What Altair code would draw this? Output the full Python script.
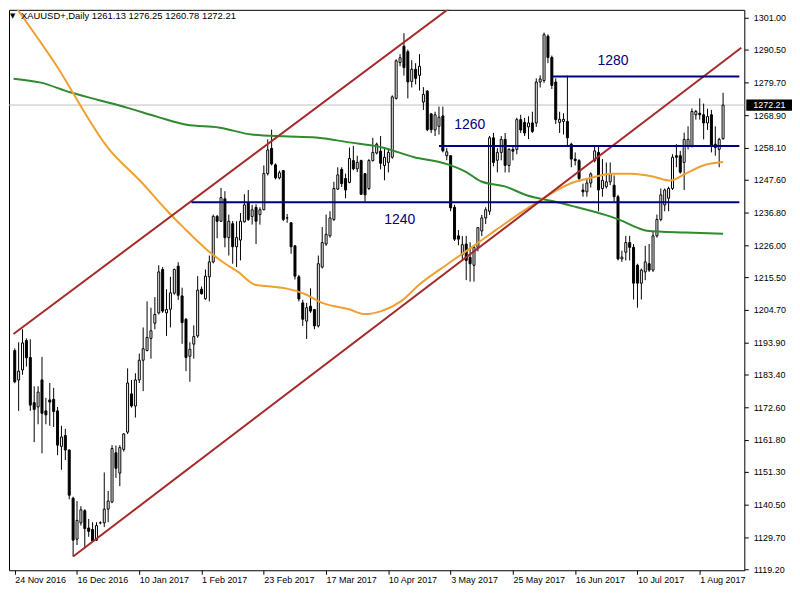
import json
import altair as alt
import pandas as pd

TITLE = "XAUUSD+,Daily  1261.13 1276.25 1260.78 1272.21"
LAST = 1272.21

date_ticks = [0, 16, 32, 48, 64, 80, 96, 112, 128, 144, 160, 176]
date_labels = ["24 Nov 2016", "16 Dec 2016", "10 Jan 2017", "1 Feb 2017", "23 Feb 2017",
               "17 Mar 2017", "10 Apr 2017", "3 May 2017", "25 May 2017", "16 Jun 2017",
               "10 Jul 2017", "1 Aug 2017"]
price_ticks = [1301.0, 1290.5, 1279.7, 1268.9, 1258.1, 1247.6, 1236.8, 1226.0, 1215.5,
               1204.7, 1193.9, 1183.4, 1172.6, 1161.8, 1151.3, 1140.5, 1129.7, 1119.2]

# daily candles, bar index 0 = 24 Nov 2016
opens = [1191.3, 1181.6, 1184.9, 1194.6, 1189.0, 1174.1, 1172.7, 1181.6, 1171.4, 1175.0,
         1175.2, 1171.4, 1159.7, 1163.3, 1158.5, 1142.6, 1129.1, 1134.5, 1138.5, 1132.8,
         1132.3, 1128.8, 1134.5, 1134.5, 1139.0, 1141.4, 1157.6, 1150.9, 1158.7, 1164.4,
         1177.0, 1173.0, 1181.6, 1188.1, 1191.3, 1195.3, 1200.3, 1203.7, 1218.0, 1203.7,
         1204.9, 1210.2, 1219.1, 1209.3, 1201.6, 1189.4, 1193.4, 1196.1, 1211.5, 1208.4,
         1215.6, 1220.5, 1235.5, 1233.9, 1241.3, 1228.5, 1233.1, 1225.5, 1227.7, 1233.7,
         1239.9, 1235.5, 1238.5, 1236.1, 1237.7, 1249.6, 1257.9, 1252.5, 1248.2, 1250.6,
         1235.0, 1233.4, 1225.8, 1215.6, 1207.0, 1201.0, 1205.9, 1204.8, 1199.4, 1218.8,
         1226.4, 1229.1, 1234.5, 1244.5, 1251.0, 1248.0, 1246.7, 1253.9, 1251.2, 1253.9,
         1249.6, 1244.7, 1253.9, 1256.4, 1257.0, 1252.3, 1253.3, 1255.0, 1274.4, 1286.2,
         1291.6, 1289.8, 1280.0, 1284.0, 1282.0, 1273.2, 1276.8, 1269.3, 1264.0, 1265.2,
         1268.6, 1255.5, 1255.5, 1238.5, 1229.1, 1222.9, 1226.4, 1222.0, 1219.4, 1225.3,
         1230.7, 1235.0, 1237.2, 1261.4, 1254.0, 1256.6, 1260.9, 1252.3, 1257.6, 1257.6,
         1267.4, 1266.5, 1265.0, 1266.3, 1266.3, 1279.8, 1280.3, 1294.9, 1287.9, 1279.8,
         1266.5, 1266.8, 1266.8, 1259.3, 1254.4, 1253.9, 1244.2, 1243.6, 1246.5, 1253.9,
         1256.6, 1244.7, 1245.3, 1246.9, 1245.8, 1242.0, 1221.5, 1223.7, 1226.9, 1225.3,
         1219.4, 1213.5, 1217.2, 1219.9, 1217.8, 1229.1, 1234.5, 1239.3, 1241.5, 1244.7,
         1255.5, 1255.5, 1253.3, 1258.7, 1258.7, 1269.0, 1269.5, 1269.0, 1266.3, 1269.0,
         1259.3, 1257.6, 1261.13]
highs = [1192.0, 1194.0, 1198.3, 1195.3, 1195.0, 1179.5, 1179.5, 1189.2, 1175.7, 1180.6,
         1179.0, 1172.7, 1166.5, 1165.5, 1158.7, 1143.1, 1141.7, 1140.0, 1139.0, 1135.8,
         1134.7, 1134.7, 1135.0, 1151.1, 1145.0, 1160.1, 1160.0, 1160.1, 1164.0, 1185.4,
         1181.6, 1183.8, 1190.3, 1198.9, 1207.5, 1205.4, 1208.9, 1219.4, 1218.8, 1211.5,
         1215.6, 1218.3, 1220.4, 1212.0, 1202.0, 1194.0, 1199.6, 1215.8, 1212.4, 1218.0,
         1222.6, 1236.1, 1236.0, 1244.9, 1243.8, 1236.1, 1234.0, 1233.9, 1236.6, 1242.8,
         1244.2, 1239.3, 1239.5, 1238.5, 1252.3, 1260.9, 1264.1, 1253.0, 1250.6, 1250.8,
         1236.3, 1233.6, 1226.0, 1216.2, 1208.0, 1207.0, 1211.8, 1205.0, 1222.6, 1232.0,
         1236.1, 1237.2, 1246.9, 1251.7, 1251.7, 1249.6, 1258.2, 1258.7, 1255.5, 1254.2,
         1249.6, 1254.4, 1261.4, 1259.8, 1262.0, 1257.7, 1258.0, 1275.4, 1287.3, 1289.0,
         1295.9, 1290.5, 1287.0, 1286.0, 1289.0, 1278.1, 1277.1, 1269.5, 1270.0, 1271.7,
         1271.7, 1258.0, 1255.7, 1239.3, 1231.0, 1229.0, 1229.1, 1227.0, 1226.0, 1232.0,
         1236.0, 1238.5, 1262.0, 1263.0, 1258.0, 1262.0, 1263.0, 1258.0, 1259.0, 1268.0,
         1269.0, 1268.0, 1268.5, 1270.0, 1281.0, 1282.0, 1296.1, 1295.5, 1288.5, 1281.0,
         1270.0, 1269.5, 1281.9, 1259.8, 1256.6, 1254.4, 1246.3, 1248.0, 1250.0, 1258.7,
         1258.7, 1254.4, 1253.3, 1253.3, 1249.0, 1242.6, 1224.2, 1229.1, 1229.1, 1226.4,
         1219.9, 1218.3, 1225.8, 1226.4, 1230.7, 1236.1, 1244.7, 1244.7, 1245.3, 1256.0,
         1259.3, 1257.1, 1263.1, 1265.2, 1271.1, 1270.6, 1274.4, 1272.7, 1271.0, 1270.6,
         1265.2, 1261.4, 1276.25]
lows = [1180.5, 1171.4, 1183.3, 1186.0, 1171.4, 1161.1, 1167.0, 1157.4, 1167.0, 1166.5,
        1166.1, 1156.8, 1152.0, 1155.2, 1142.3, 1123.4, 1127.2, 1133.6, 1126.1, 1129.9,
        1128.3, 1128.5, 1134.0, 1133.1, 1134.7, 1141.0, 1149.3, 1146.6, 1158.0, 1163.8,
        1172.5, 1169.2, 1180.6, 1177.9, 1191.0, 1188.6, 1198.3, 1203.2, 1203.7, 1196.1,
        1198.9, 1209.7, 1208.0, 1193.5, 1184.5, 1181.0, 1188.6, 1195.5, 1209.7, 1208.0,
        1207.5, 1220.0, 1228.3, 1233.7, 1225.3, 1222.6, 1219.9, 1218.8, 1221.0, 1233.5,
        1234.0, 1232.8, 1226.4, 1232.8, 1237.5, 1249.0, 1252.3, 1247.7, 1247.7, 1234.0,
        1233.4, 1223.2, 1214.7, 1207.5, 1199.4, 1195.1, 1203.7, 1198.3, 1198.9, 1218.3,
        1225.8, 1228.5, 1234.0, 1244.2, 1245.2, 1241.5, 1246.4, 1250.7, 1250.1, 1242.6,
        1240.4, 1244.2, 1253.6, 1255.9, 1251.0, 1247.4, 1250.0, 1254.5, 1274.0, 1285.0,
        1281.9, 1274.4, 1278.0, 1279.0, 1277.0, 1270.6, 1263.6, 1263.0, 1262.0, 1262.5,
        1256.6, 1254.0, 1237.2, 1227.4, 1226.0, 1221.0, 1214.5, 1214.0, 1214.0, 1224.0,
        1229.0, 1233.0, 1236.0, 1252.0, 1250.0, 1254.0, 1250.0, 1250.0, 1254.0, 1256.0,
        1263.0, 1262.0, 1261.0, 1263.0, 1265.0, 1278.0, 1279.5, 1286.0, 1277.5, 1266.0,
        1263.0, 1262.5, 1258.7, 1251.7, 1252.3, 1246.9, 1242.0, 1242.0, 1245.0, 1253.3,
        1237.2, 1242.0, 1244.7, 1245.8, 1240.4, 1221.0, 1220.5, 1221.0, 1221.0, 1208.1,
        1205.4, 1208.1, 1214.5, 1217.2, 1217.2, 1228.5, 1233.9, 1237.2, 1237.2, 1244.2,
        1251.7, 1249.6, 1244.2, 1257.6, 1258.2, 1267.4, 1267.4, 1260.9, 1264.0, 1256.6,
        1255.5, 1251.7, 1260.78]
closes = [1181.0, 1184.5, 1193.8, 1188.9, 1173.3, 1171.9, 1177.6, 1170.6, 1170.1, 1174.3,
          1171.2, 1160.1, 1162.8, 1158.5, 1143.6, 1128.8, 1135.3, 1138.8, 1132.6, 1131.7,
          1128.5, 1133.6, 1134.5, 1139.0, 1141.7, 1159.0, 1152.5, 1159.3, 1163.8, 1180.6,
          1173.0, 1181.6, 1188.1, 1191.9, 1195.6, 1197.8, 1203.2, 1217.2, 1204.3, 1204.8,
          1210.3, 1218.0, 1209.5, 1200.5, 1189.0, 1191.7, 1195.9, 1211.2, 1210.0, 1215.8,
          1220.5, 1235.5, 1233.9, 1241.7, 1228.5, 1233.9, 1225.5, 1228.5, 1233.9, 1239.3,
          1234.5, 1237.7, 1233.9, 1237.7, 1249.6, 1257.4, 1252.8, 1248.2, 1249.9, 1234.5,
          1235.0, 1225.5, 1215.8, 1208.3, 1201.6, 1205.4, 1204.3, 1199.4, 1219.9, 1226.9,
          1229.6, 1235.0, 1244.7, 1249.2, 1246.3, 1244.2, 1254.6, 1251.2, 1253.3, 1242.8,
          1242.6, 1253.9, 1256.6, 1259.3, 1253.0, 1255.0, 1256.6, 1274.9, 1286.8, 1287.8,
          1284.6, 1279.8, 1284.0, 1281.0, 1285.0, 1275.7, 1264.1, 1264.1, 1269.0, 1268.2,
          1257.1, 1256.8, 1238.3, 1228.0, 1228.0, 1226.2, 1221.0, 1219.9, 1225.3, 1231.8,
          1235.0, 1237.7, 1261.4, 1253.3, 1256.6, 1260.9, 1252.3, 1257.6, 1257.0, 1267.4,
          1264.0, 1263.0, 1266.3, 1263.5, 1279.8, 1280.8, 1295.4, 1287.9, 1278.7, 1267.4,
          1267.5, 1267.5, 1261.4, 1254.4, 1253.9, 1248.0, 1243.6, 1246.5, 1249.5, 1257.1,
          1244.2, 1247.4, 1246.9, 1249.6, 1242.0, 1221.5, 1222.1, 1226.9, 1225.3, 1213.5,
          1213.5, 1217.8, 1220.5, 1217.8, 1229.1, 1234.5, 1242.6, 1244.2, 1244.7, 1255.0,
          1255.0, 1250.1, 1260.9, 1260.9, 1270.1, 1270.1, 1269.0, 1266.3, 1268.4, 1258.7,
          1258.2, 1260.9, 1272.21]

# moving averages (bar index, price)
ma_fast_idx = [-0.3, 9.9, 24.2, 32.4, 39.2, 43.4, 49.2, 54.2, 57.4, 61.7, 65.9, 69.9, 74.2,
               79.2, 85.9, 89.9, 94.2, 99.2, 104.2, 110.9, 117.4, 123.4, 129.2, 135.9, 139.2,
               144.2, 147.4, 153.4, 158.4, 164.2, 168.4, 172.4, 176.7, 182.0]
ma_fast_val = [1305.5, 1286.8, 1257.7, 1247.0, 1237.3, 1231.8, 1224.7, 1219.8, 1217.2, 1213.0,
               1212.4, 1211.7, 1210.1, 1206.9, 1204.9, 1203.3, 1204.3, 1207.5, 1213.3, 1219.5,
               1225.3, 1230.8, 1236.0, 1241.5, 1244.1, 1247.0, 1248.0, 1249.6, 1249.6, 1248.6,
               1247.3, 1249.6, 1252.2, 1253.4]
ma_slow_idx = [-0.3, 6.7, 14.2, 21.7, 29.2, 36.7, 44.2, 52.4, 60.9, 69.2, 77.4, 85.9, 94.2,
               102.4, 110.9, 115.9, 119.9, 125.9, 131.7, 138.4, 144.2, 151.7, 155.9, 159.9,
               162.4, 172.4, 182.0]
ma_slow_val = [1280.9, 1279.6, 1276.4, 1273.8, 1271.2, 1268.3, 1265.7, 1264.8, 1262.5, 1261.9,
               1261.5, 1259.9, 1258.3, 1255.1, 1252.8, 1250.2, 1247.0, 1245.4, 1242.4, 1240.5,
               1238.6, 1236.0, 1234.1, 1231.8, 1230.8, 1230.2, 1229.8]

# channel lines (two anchor points each) and horizontal levels
chan_name = ["upper", "upper", "lower", "lower"]
chan_idx = [-0.325, 113.5, 15.0, 186.675]
chan_val = [1196.75, 1305.85, 1123.4, 1291.07]

level_val = [1240.2, 1258.7, 1281.6]
level_start = [45.4, 109.0, 137.9]
level_text = ["1240", "1260", "1280"]
level_text_idx = [98.9, 116.9, 153.7]
level_text_val = [1234.4, 1265.7, 1286.7]

X_START = -0.2
X_END = 186.175
xs = alt.Scale(domain=[X_START, X_END], nice=False, zero=False)
ys = alt.Scale(domain=[1118.87, 1303.59], nice=False, zero=False)

FONT = "Liberation Sans"
label_expr = json.dumps(date_labels) + "[round(datum.value / 16)]"

AX_X = alt.Axis(values=date_ticks, labelExpr=label_expr, labelAlign="left", labelBaseline="top",
                labelFont=FONT, labelFontSize=9, labelColor="black", tickColor="black",
                tickSize=4, labelPadding=1, domain=False, grid=False, labelFlush=False,
                labelOverlap=False, labelBound=False, title=None)
AX_Y = alt.Axis(orient="right", values=price_ticks, format=".2f", labelFont=FONT,
                labelFontSize=9, labelColor="black", tickColor="black", tickSize=4,
                labelPadding=5, domain=False, grid=False, labelOverlap=False,
                labelFlush=False, labelBound=False, title=None)


def X(field):
    return alt.X(field, type="quantitative", scale=xs, axis=AX_X, title=None)


def Y(field):
    return alt.Y(field, type="quantitative", scale=ys, axis=AX_Y, title=None)


df = pd.DataFrame({"i": list(range(len(opens))), "o": opens, "h": highs, "l": lows, "c": closes})
bull = df[df.c >= df.o]
bear = df[df.c < df.o]

wicks = alt.Chart(df).mark_rule(color="black", strokeWidth=1).encode(
    x=X("i"), y=Y("l"), y2="h:Q")

bodies_bull = alt.Chart(bull).mark_bar(size=2, fill="white", stroke="black", strokeWidth=1).encode(
    x=X("i"), y=Y("o"), y2="c:Q")
bodies_bear = alt.Chart(bear).mark_bar(size=2, fill="black", stroke="black", strokeWidth=1).encode(
    x=X("i"), y=Y("o"), y2="c:Q")

last_line = alt.Chart(pd.DataFrame({"p": [LAST]})).mark_rule(color="#c0c0c0", strokeWidth=1).encode(
    y=Y("p"))

ma_fast = alt.Chart(pd.DataFrame({"i": ma_fast_idx, "v": ma_fast_val})).mark_line(
    color="#f0a030", strokeWidth=2, clip=True, interpolate="monotone").encode(x=X("i"), y=Y("v"))
ma_slow = alt.Chart(pd.DataFrame({"i": ma_slow_idx, "v": ma_slow_val})).mark_line(
    color="#2e8b2e", strokeWidth=2, clip=True, interpolate="monotone").encode(x=X("i"), y=Y("v"))

channel = alt.Chart(pd.DataFrame({"n": chan_name, "i": chan_idx, "v": chan_val})).mark_line(
    color="#a52a2a", strokeWidth=2, clip=True).encode(x=X("i"), y=Y("v"), detail="n:N")

levels = alt.Chart(pd.DataFrame({"s": level_start, "e": [X_END] * 3, "v": level_val})).mark_rule(
    color="#000080", strokeWidth=2, clip=True).encode(x=X("s"), x2="e:Q", y=Y("v"))

level_labels = alt.Chart(pd.DataFrame({"t": level_text, "i": level_text_idx, "v": level_text_val})).mark_text(
    color="#000080", font=FONT, fontSize=14, align="center", baseline="middle").encode(
    x=X("i"), y=Y("v"), text="t:N")

price_box = alt.Chart(pd.DataFrame({"p": [LAST]})).transform_calculate(
    top="datum.p + 1.85", bot="datum.p - 1.85").mark_rect(color="black").encode(
    x=alt.value(742), x2=alt.value(788), y=Y("top"), y2="bot:Q")
price_text = alt.Chart(pd.DataFrame({"p": [LAST], "t": ["1272.21"]})).mark_text(
    color="white", font=FONT, fontSize=9, align="left", baseline="middle").encode(
    x=alt.value(749), y=Y("p"), text="t:N")

title_text = alt.Chart(pd.DataFrame({"t": [TITLE]})).mark_text(
    font=FONT, fontSize=9.5, align="left", baseline="middle", color="black").encode(
    x=alt.value(12), y=alt.value(6), text="t:N")
title_icon = alt.Chart(pd.DataFrame({"t": ["\u25BC"]})).mark_text(
    font="DejaVu Sans", fontSize=7, align="left", baseline="middle", color="black").encode(
    x=alt.value(1), y=alt.value(6), text="t:N")

chart = alt.layer(
    last_line, wicks, bodies_bull, bodies_bear, ma_slow, ma_fast, channel, levels,
    level_labels, price_box, price_text, title_icon, title_text
).properties(
    width=740, height=564,
    padding={"left": 0, "top": 0, "right": 0, "bottom": 0},
    background="white",
).configure_view(stroke="black", strokeWidth=1)

chart.save("out.html", embed_options={"renderer": "svg", "actions": False})
